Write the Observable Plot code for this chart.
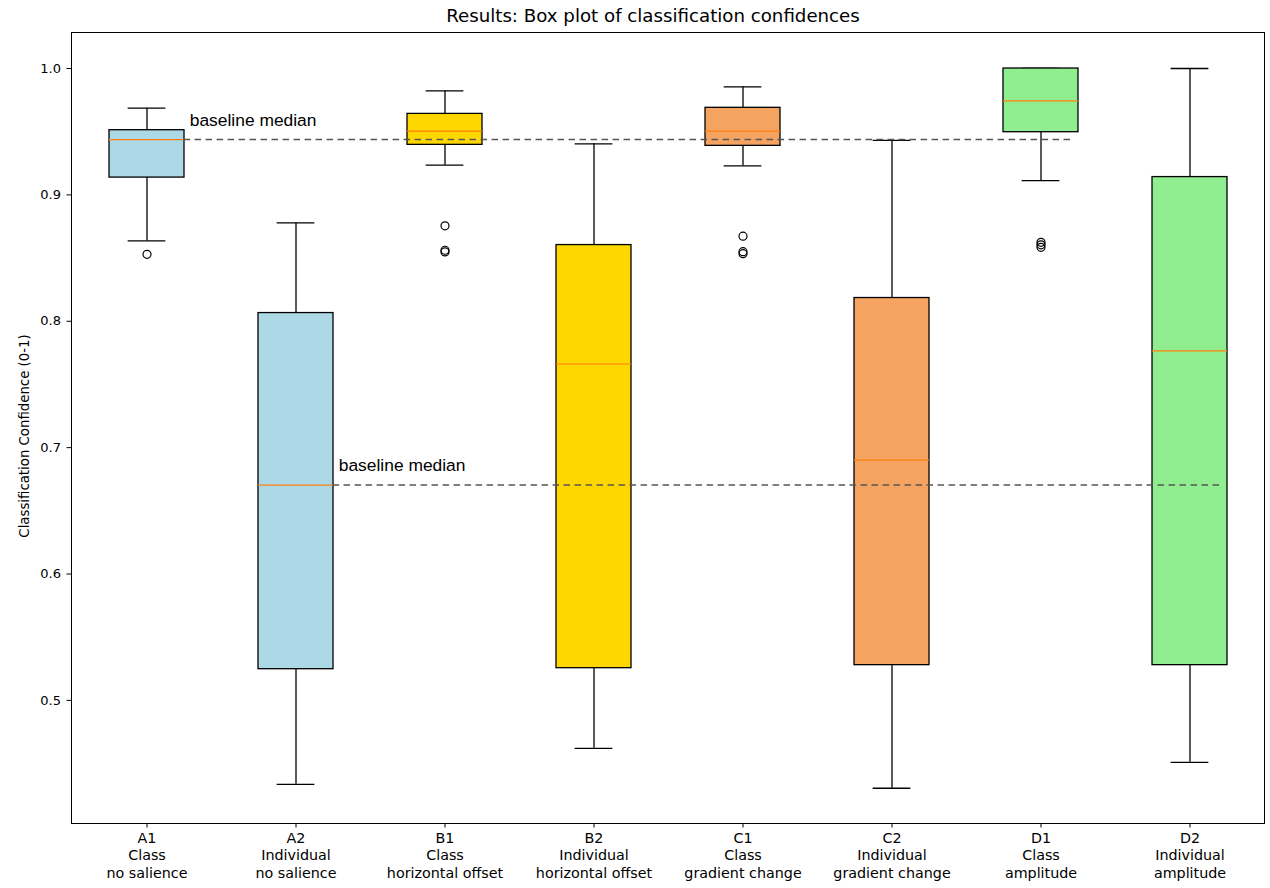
<!DOCTYPE html>
<html><head><meta charset="utf-8">
<script src="https://cdn.jsdelivr.net/npm/d3@7"></script>
<script src="https://cdn.jsdelivr.net/npm/@observablehq/plot@0.6"></script>
<style>
body{margin:0;background:#fff;}
#title{position:relative;height:30px;font-family:"DejaVu Sans";font-size:18.2px;color:#000;}
#title span{position:absolute;left:0;width:1306px;text-align:center;top:5px;white-space:nowrap;}
</style></head><body>
<div id="title"><span>Results: Box plot of classification confidences</span></div>
<div id="chart"></div>
<script>
const categories = ["A1","A2","B1","B2","C1","C2","D1","D2"];
const tickLabels = ["A1\nClass\nno salience","A2\nIndividual\nno salience","B1\nClass\nhorizontal offset","B2\nIndividual\nhorizontal offset","C1\nClass\ngradient change","C2\nIndividual\ngradient change","D1\nClass\namplitude","D2\nIndividual\namplitude"];
const boxColors = ["lightblue","lightblue","gold","gold","sandybrown","sandybrown","lightgreen","lightgreen"];
const whiskerLow  = [0.8636, 0.4336, 0.9235, 0.4621, 0.9230, 0.4305, 0.9113, 0.4510];
const q1          = [0.9137, 0.5247, 0.9396, 0.5255, 0.9388, 0.5279, 0.9496, 0.5279];
const median      = [0.9438, 0.6704, 0.9504, 0.7662, 0.9504, 0.6902, 0.9744, 0.7765];
const q3          = [0.9512, 0.8065, 0.9641, 0.8603, 0.9689, 0.8184, 1.0000, 0.9141];
const whiskerHigh = [0.9686, 0.8778, 0.9823, 0.9404, 0.9855, 0.9432, 1.0000, 1.0000];
const outlierCategory = ["A1","B1","B1","B1","C1","C1","C1","D1","D1","D1"];
const outlierValue    = [0.8530, 0.8755, 0.8562, 0.8549, 0.8673, 0.8551, 0.8535, 0.8625, 0.8605, 0.8585];
const baselineFrom  = ["A1","A2"];
const baselineTo    = ["D1","D2"];
const baselineValue = [0.9438, 0.6704];
const baselineLabel = ["baseline median","baseline median"];
const yTicks = [0.5, 0.6, 0.7, 0.8, 0.9, 1.0];
const yDomain = [0.4026, 1.0285];
const yLabel = "Classification Confidence (0-1)";

const W = 1270, H = 858, mL = 71, mR = 6, mT = 2, mB = 65;
const step = (W - mL - mR) / categories.length;
const bw = step / 2;

const boxes = categories.map((c, i) => ({cat: c, low: whiskerLow[i], q1: q1[i], med: median[i], q3: q3[i], high: whiskerHigh[i]}));
const outl = outlierCategory.map((c, i) => ({cat: c, v: outlierValue[i]}));
const bases = baselineFrom.map((c, i) => ({from: c, to: baselineTo[i], v: baselineValue[i], label: baselineLabel[i]}));

const chart = Plot.plot({
  width: W, height: H, marginLeft: mL, marginRight: mR, marginTop: mT, marginBottom: mB,
  style: {fontFamily: "DejaVu Sans", fontSize: "12px", color: "#000", background: "#fff"},
  x: {type: "band", domain: categories, paddingInner: 0.5, paddingOuter: 0.25, align: 0.5},
  y: {domain: yDomain},
  color: {type: "ordinal", domain: categories, range: boxColors},
  marks: [
    Plot.ruleX(boxes, {x: "cat", y1: "q3", y2: "high", stroke: "#000", strokeWidth: 1.3}),
    Plot.ruleX(boxes, {x: "cat", y1: "low", y2: "q1", stroke: "#000", strokeWidth: 1.3}),
    Plot.tickY(boxes, {x: "cat", y: "high", insetLeft: bw / 4, insetRight: bw / 4, stroke: "#000", strokeWidth: 1.3}),
    Plot.tickY(boxes, {x: "cat", y: "low", insetLeft: bw / 4, insetRight: bw / 4, stroke: "#000", strokeWidth: 1.3}),
    Plot.barY(boxes, {x: "cat", y1: "q1", y2: "q3", fill: "cat", stroke: "#000", strokeWidth: 1.3}),
    Plot.tickY(boxes, {x: "cat", y: "med", stroke: "#ff7f0e", strokeWidth: 1.2}),
    Plot.dot(outl, {x: "cat", y: "v", r: 4, stroke: "#000", fill: "none", strokeWidth: 1.2}),
    Plot.ruleY(bases, {x1: "from", x2: "to", y: "v", stroke: "#555", strokeWidth: 1.5, strokeDasharray: "6.5,4.5", insetLeft: bw, insetRight: 4}),
    Plot.text(bases, {x: "from", y: "v", text: "label", textAnchor: "start", lineAnchor: "bottom", dx: bw / 2 + 5.5, dy: -14, fontFamily: "Liberation Sans", fontSize: 17.4, fill: "#000"}),
    Plot.frame({stroke: "#000", strokeWidth: 1}),
    Plot.axisX({tickFormat: d => tickLabels[categories.indexOf(d)], tickSize: 4.5, tickPadding: 3, lineHeight: 1.2, label: null, fontSize: 14.3}),
    Plot.axisY({ticks: yTicks, tickFormat: d3.format(".1f"), tickSize: 4.5, tickPadding: 6, label: null, fontSize: 13}),
    Plot.text([yLabel], {frameAnchor: "left", textAnchor: "middle", rotate: -90, dx: -47, dy: 8, fontSize: 13.3, fill: "#000"})
  ]
});
document.getElementById("chart").appendChild(chart);
</script>
</body></html>
